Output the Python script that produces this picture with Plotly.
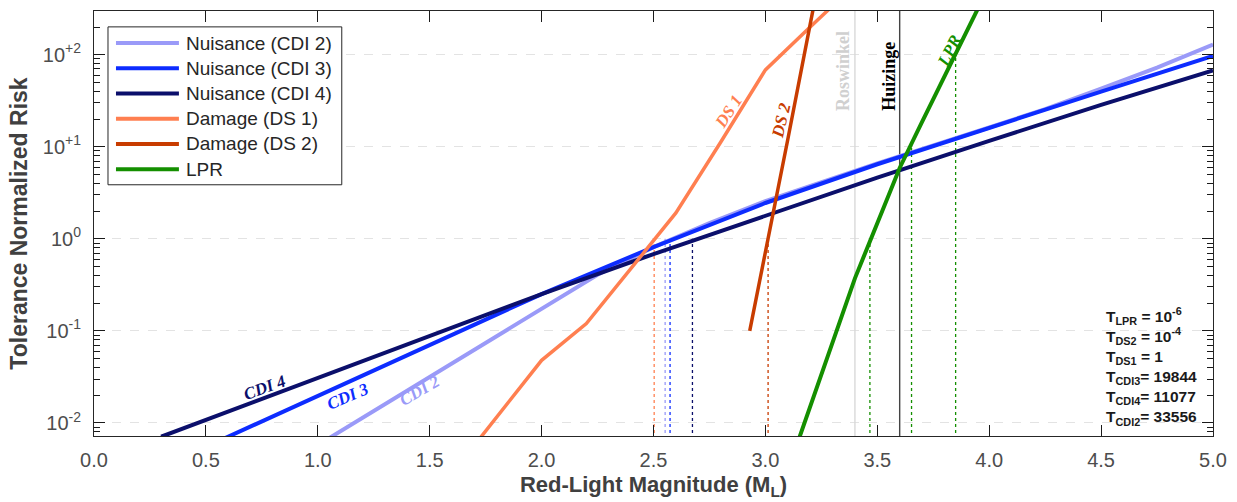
import math
import plotly.graph_objects as go

# ---------------- data ----------------
cdi2_mag = [1.0, 1.25, 1.5, 2.0, 2.25, 2.5, 2.75, 3.0, 3.5, 4.0, 4.25, 4.5, 4.75, 5.0]
cdi2_risk = [0.00575, 0.0135, 0.0309, 0.174, 0.407, 0.813, 1.48, 2.57, 6.61, 16.2, 25.7, 42.7, 72.4, 129]

cdi3_mag = [0.5, 1.0, 1.5, 2.0, 2.5, 3.0, 3.5, 4.0, 4.5, 5.0]
cdi3_risk = [0.0055, 0.0195, 0.0692, 0.251, 0.813, 2.45, 6.46, 16.2, 39.8, 96.8]

cdi4_mag = [0.3, 1.0, 1.5, 2.0, 2.5, 3.0, 3.5, 4.0, 4.5, 5.0]
cdi4_risk = [0.00708, 0.0308, 0.0877, 0.251, 0.684, 1.80, 4.62, 11.6, 28.5, 67.6]

ds1_mag = [1.6, 1.8, 2.0, 2.2, 2.4, 2.6, 2.8, 3.0, 3.2, 3.4]
ds1_risk = [0.00282, 0.0117, 0.0479, 0.120, 0.479, 1.91, 11.2, 68.4, 200, 575]

ds2_mag = [2.93, 3.0, 3.1, 3.2, 3.25]
ds2_risk = [0.1, 0.692, 12.0, 214, 891]

lpr_mag = [3.1, 3.2, 3.3, 3.4, 3.5, 3.6, 3.7, 3.8, 3.9, 4.0]
lpr_risk = [0.00302, 0.0148, 0.0741, 0.372, 1.48, 5.89, 18.6, 58.9, 182, 562]

series_names = ["Nuisance (CDI 2)", "Nuisance (CDI 3)", "Nuisance (CDI 4)",
                "Damage (DS 1)", "Damage (DS 2)", "LPR"]

# magnitudes at which the curves reach the tolerance levels (dotted markers)
marker_mag = [2.503, 2.552, 2.574, 2.674, 3.012, 3.467, 3.653, 3.85]
marker_level = [1, 1, 1, 1, 1, 1, 10, 100]
marker_series = [3, 0, 1, 2, 4, 5, 5, 5]

# historic events
event_names = ["Roswinkel", "Huizinge"]
event_mags = [3.4, 3.6]

# tolerances
tol_names = ["LPR", "DS2", "DS1", "CDI3", "CDI4", "CDI2"]
tol_values = ["10<sup>-6</sup>", "10<sup>-4</sup>", "1", "19844", "11077", "33556"]
tol_sep = [" = ", " = ", " = ", "= ", "= ", "= "]

# axis ticks
x_ticks = [0.0, 0.5, 1.0, 1.5, 2.0, 2.5, 3.0, 3.5, 4.0, 4.5, 5.0]
y_tick_plain = ["0.01", "0.1", "1", "10", "100"]
y_ticktext = ["10<sup>-2</sup>", "10<sup>-1</sup>", "10<sup>0</sup>",
              "10<sup>+1</sup>", "10<sup>+2</sup>"]

# curve labels
curve_label_text = ["CDI 2", "CDI 3", "CDI 4", "DS 1", "DS 2", "LPR"]

# ---------------- styles ----------------
colors = ["#9a9af8", "#0d2cff", "#0b0f6b", "#ff7f50", "#c83c00", "#148f00"]
widths = [4, 4, 4, 3.5, 3.5, 4]
label_pos = [(1.456, 0.0226, -30), (1.134, 0.0195, -23), (0.764, 0.0243, -20),
             (2.833, 23.7, -57), (3.070, 19.4, -77), (3.824, 110, -63)]
event_style = [dict(color="#d9d9d9", text="#d0d0d0", pos=(3.344, 67)),
               dict(color="#444444", text="#000000", pos=(3.552, 59))]

W, H = 1237, 502
ML, MR, MT, MB = 94, 23, 10, 64
PW, PH = W - ML - MR, H - MT - MB


def fx(px):
    return (px - ML) / PW


def fy(py):
    return 1 - (py - MT) / PH


Y_RANGE = [-2.142, 2.475]

mags = [cdi2_mag, cdi3_mag, cdi4_mag, ds1_mag, ds2_mag, lpr_mag]
risks = [cdi2_risk, cdi3_risk, cdi4_risk, ds1_risk, ds2_risk, lpr_risk]

fig = go.Figure()

# event vertical lines
for name, m, st in zip(event_names, event_mags, event_style):
    fig.add_trace(go.Scatter(x=[m, m], y=[1e-4, 1e4], mode="lines",
                             line=dict(color=st["color"], width=1.4),
                             showlegend=False, hoverinfo="skip"))

# dotted tolerance markers
for m, lev, s in zip(marker_mag, marker_level, marker_series):
    fig.add_trace(go.Scatter(x=[m, m], y=[1e-4, lev], mode="lines",
                             line=dict(color=colors[s], width=1.3, dash="dot"),
                             showlegend=False, hoverinfo="skip"))

# curves
for name, xm, yr, c, w in zip(series_names, mags, risks, colors, widths):
    fig.add_trace(go.Scatter(x=xm, y=yr, mode="lines", name=name,
                             line=dict(color=c, width=w)))

annotations = []
shapes = []
for txt, (lx, ly, ang), c in zip(curve_label_text, label_pos, colors):
    annotations.append(dict(x=lx, y=math.log10(ly), xref="x", yref="y",
                            text="<b><i>" + txt + "</i></b>", showarrow=False,
                            textangle=ang,
                            font=dict(family="Liberation Serif", size=17, color=c)))
for name, st in zip(event_names, event_style):
    annotations.append(dict(x=st["pos"][0], y=math.log10(st["pos"][1]), xref="x", yref="y",
                            text="<b>" + name + "</b>", showarrow=False, textangle=-90,
                            font=dict(family="Liberation Serif", size=18, color=st["text"])))

# tolerance text block
tol_lines = ["T<sub>" + n + "</sub>" + sep + v for n, sep, v in zip(tol_names, tol_sep, tol_values)]
annotations.append(dict(x=fx(1105), y=fy(304), xref="paper", yref="paper",
                        xanchor="left", yanchor="top", align="left", showarrow=False,
                        text="<b>" + "<br>".join(tol_lines) + "</b>",
                        font=dict(family="Liberation Sans", size=15.5, color="#1a1a1a")))

# legend (drawn box with line samples)
axis_col = "#1a1a1a"
shapes.append(dict(type="rect", xref="paper", yref="paper",
                   x0=fx(108), x1=fx(342), y0=fy(185), y1=fy(26),
                   line=dict(color="#262626", width=1), fillcolor="white", layer="above"))
for i, (name, c, w) in enumerate(zip(series_names, colors, widths)):
    row = 42.3 + 25.4 * i
    shapes.append(dict(type="line", xref="paper", yref="paper",
                       x0=fx(116), x1=fx(179), y0=fy(row), y1=fy(row),
                       line=dict(color=c, width=4), layer="above"))
    annotations.append(dict(x=fx(184), y=fy(row), xref="paper", yref="paper",
                            xanchor="left", yanchor="middle", showarrow=False,
                            text=name,
                            font=dict(family="Liberation Sans", size=19, color="#262626")))

fig.update_layout(
    width=W, height=H,
    margin=dict(l=ML, r=MR, t=MT, b=MB),
    paper_bgcolor="white", plot_bgcolor="white",
    font=dict(family="Liberation Sans", color="#404040"),
    annotations=annotations, shapes=shapes,
    showlegend=False,
    xaxis=dict(range=[0, 5], tickmode="array", tickvals=x_ticks,
               ticktext=["%.1f" % v for v in x_ticks],
               ticks="inside", ticklen=11, tickcolor=axis_col, tickwidth=1.2,
               showline=True, linecolor="#262626", linewidth=1, mirror="ticks",
               showgrid=False, zeroline=False,
               tickfont=dict(size=20, color="#4d4d4d"), ticklabelstandoff=6,
               title=dict(text="<b>Red-Light Magnitude (M<sub>L</sub>)</b>",
                          font=dict(size=22, color="#404040"), standoff=6)),
    yaxis=dict(type="log", range=Y_RANGE, tickmode="linear", tick0=0, dtick=1,
               labelalias=dict(zip(y_tick_plain, y_ticktext)),
               ticks="inside", ticklen=11, tickcolor=axis_col, tickwidth=1.2,
               showline=True, linecolor="#262626", linewidth=1, mirror="ticks",
               showgrid=True, gridcolor="#e3e3e3", griddash="dash", gridwidth=1,
               zeroline=False,
               minor=dict(ticks="inside", ticklen=6, dtick="D1", tickcolor=axis_col,
                          tickwidth=1.2, showgrid=False),
               tickfont=dict(size=20, color="#4d4d4d"), ticklabelstandoff=8,
               title=dict(text="<b>Tolerance Normalized Risk</b>",
                          font=dict(size=23, color="#404040"), standoff=8)),
)

fig.write_html("out.html")
